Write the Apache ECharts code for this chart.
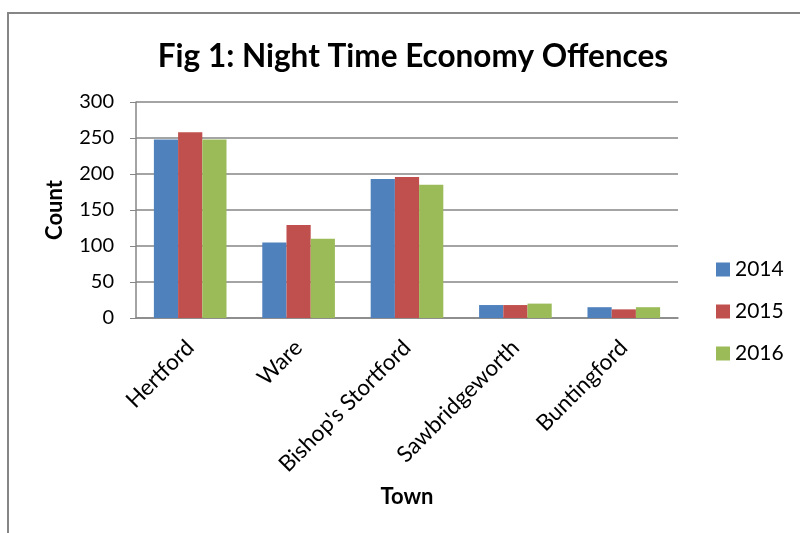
<!DOCTYPE html>
<html>
<head>
<meta charset="utf-8">
<script src="https://cdn.jsdelivr.net/npm/echarts@6/dist/echarts.min.js"></script>
<style>html,body{margin:0;padding:0;background:#fff;}#c{width:800px;height:533px;}</style>
</head>
<body>
<div id="c"></div>
<script>
const towns = ["Hertford", "Ware", "Bishop's Stortford", "Sawbridgeworth", "Buntingford"];
const s2014 = [248, 105, 193, 18, 15];
const s2015 = [258, 129, 196, 18, 12];
const s2016 = [248, 110, 185, 20, 15];
const years = ["2014", "2015", "2016"];
const colors = ["#4F81BD", "#C0504D", "#9BBB59"];
const FONT = "Lato";

const chart = echarts.init(document.getElementById('c'));
chart.setOption({
  animation: false,
  color: colors,
  textStyle: { fontFamily: FONT },
  graphic: [{
    type: 'rect', shape: { x: 8, y: 13, width: 820, height: 560 },
    style: { fill: 'none', stroke: '#868686', lineWidth: 2 }, silent: true, z: -10
  }],
  title: {
    text: 'Fig 1: Night Time Economy Offences',
    left: 408, top: 36, textAlign: 'center',
    textStyle: { fontFamily: FONT, fontSize: 31.5, fontWeight: 'bold', color: '#000' }
  },
  legend: {
    orient: 'vertical', left: 711, top: 254,
    itemWidth: 14, itemHeight: 14, itemGap: 21,
    icon: 'rect',
    textStyle: { fontFamily: FONT, fontSize: 21, color: '#000' },
    data: years
  },
  grid: { left: 136, right: 122, top: 102, bottom: 215 },
  xAxis: {
    type: 'category', data: towns,
    name: 'Town', nameLocation: 'middle', nameGap: 168,
    nameTextStyle: { fontFamily: FONT, fontSize: 22, fontWeight: 'bold', color: '#000' },
    axisLine: { lineStyle: { color: '#868686', width: 1.5 } },
    axisTick: { show: false },
    axisLabel: { rotate: 45, margin: 26, fontFamily: FONT, fontSize: 22.5, color: '#000' }
  },
  yAxis: {
    type: 'value', min: 0, max: 300, interval: 50,
    name: 'Count', nameLocation: 'middle', nameGap: 70,
    nameTextStyle: { fontFamily: FONT, fontSize: 22, fontWeight: 'bold', color: '#000' },
    axisLine: { show: true, lineStyle: { color: '#868686', width: 1.5 } },
    axisTick: { show: true, length: 6, lineStyle: { color: '#868686' } },
    axisLabel: { margin: 22, fontFamily: FONT, fontSize: 20, color: '#000' },
    splitLine: { lineStyle: { color: '#868686', width: 1.5 } }
  },
  series: [
    { name: years[0], type: 'bar', data: s2014, barGap: '0%', barCategoryGap: '33%' },
    { name: years[1], type: 'bar', data: s2015, barGap: '0%', barCategoryGap: '33%' },
    { name: years[2], type: 'bar', data: s2016, barGap: '0%', barCategoryGap: '33%' }
  ]
});
</script>
</body>
</html>
